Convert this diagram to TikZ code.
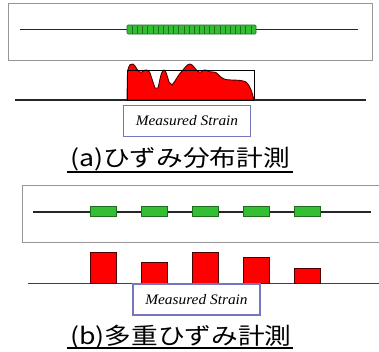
\documentclass[tikz,border=0pt]{standalone}
\usepackage{fontspec}
\usepackage{graphicx}
\setmainfont{Liberation Serif}
\newfontfamily\jpfont{Noto Sans CJK JP}
\definecolor{grn}{RGB}{52,190,52}
\definecolor{grnd}{RGB}{30,110,30}
\definecolor{lav}{RGB}{118,118,190}
\definecolor{framegrey}{RGB}{150,150,150}
\begin{document}
\begin{tikzpicture}[x=1pt,y=-1pt,
  frame/.style={draw=framegrey, line width=1pt},
  fiber/.style={draw=black!85, line width=1.3pt},
  grating/.style={fill=grn, draw=grnd, line width=0.6pt},
  strainfill/.style={fill=red, draw=black!70!red, line width=0.9pt},
  outline/.style={draw=black, line width=1pt},
  measbox/.style={draw=lav, line width=1.3pt, fill=white, minimum width=127pt, minimum height=31pt, inner sep=0pt,
    font=\itshape\fontsize{14.5}{15}\selectfont},
  captext/.style={anchor=base west, inner sep=0pt, font=\jpfont\fontsize{23}{23}\selectfont},
  uline/.style={draw=black, line width=1.6pt}]
\useasboundingbox (0,0) rectangle (379,351);
\fill[white] (0,0) rectangle (379,351);

% ---------- (a) distributed measurement ----------
\draw[frame] (8,3) rectangle (372,60);
\coordinate (fa1) at (20,29.5);
\coordinate (fa2) at (358,29.5);
\draw[fiber] (fa1) -- (fa2);
\draw[grating, rounded corners=1pt] (127,25) rectangle (256,34);
\foreach \i in {1,...,24}
  \draw[grnd, line width=0.5pt] ({127+\i*129/25},25.5) -- ++(0,8);

\draw[strainfill] (127,100) -- (127.5,72)
  .. controls (129,64) and (131,63) .. (133,64)
  .. controls (136,66) and (137,71) .. (140,72)
  .. controls (143,73) and (144,69) .. (147,70)
  .. controls (149,71) and (150,72) .. (151,76)
  -- (155,88) -- (158,88)
  .. controls (160,80) and (161,71) .. (164,70)
  .. controls (166,70) and (167,76) .. (169,82)
  -- (172,85)
  .. controls (175,82) and (178,75) .. (182,71)
  .. controls (185,68) and (187,64) .. (190,64)
  .. controls (193,64) and (195,70) .. (199,72)
  .. controls (202,73) and (203,69) .. (206,70)
  .. controls (209,71) and (210,73) .. (213,72)
  .. controls (217,71) and (219,77) .. (224,79)
  .. controls (230,81) and (240,79) .. (246,82)
  .. controls (250,85) and (252,92) .. (254,100) -- cycle;
\draw[outline] (127,100) rectangle (254,70);
\coordinate (ba1) at (15,100);
\coordinate (ba2) at (127,100);
\coordinate (ba3) at (254,100);
\coordinate (ba4) at (366,100);
\draw[fiber] (ba1) -- (ba2);
\draw[fiber] (ba3) -- (ba4);

\node[measbox] (msa) at (187,121) {\scalebox{1.06}[1]{Measured Strain}};
\node[captext] (capa) at (70,166) {\scalebox{1.16}[1]{(a)ひずみ分布計測}};
\draw[uline] (67,172) -- (293,172);

% ---------- (b) multiplexed measurement ----------
\draw[frame] (385,185) -- (22,185) -- (22,242) -- (385,242);
\coordinate (fb1) at (33,212);
\coordinate (fb2) at (371,212);
\draw[fiber] (fb1) -- (fb2);
\foreach \x in {90,141,192,243,294}
  \draw[grating] (\x,206) rectangle ++(26,10);

\coordinate (bb1) at (28,283);
\coordinate (bb2) at (385,283);
\draw[fiber, line width=1pt, draw=black!75] (bb1) -- (bb2);
\foreach \x/\t in {90/252,141/262,192/252,243/257,294/268}
  \draw[strainfill] (\x,283) rectangle (\x+26,\t);

\node[measbox] (msb) at (196.5,299.5) {\scalebox{1.06}[1]{Measured Strain}};
\node[captext] (capb) at (70,344) {\scalebox{1.16}[1]{(b)多重ひずみ計測}};
\draw[uline] (67,348) -- (293,348);
\end{tikzpicture}
\end{document}
